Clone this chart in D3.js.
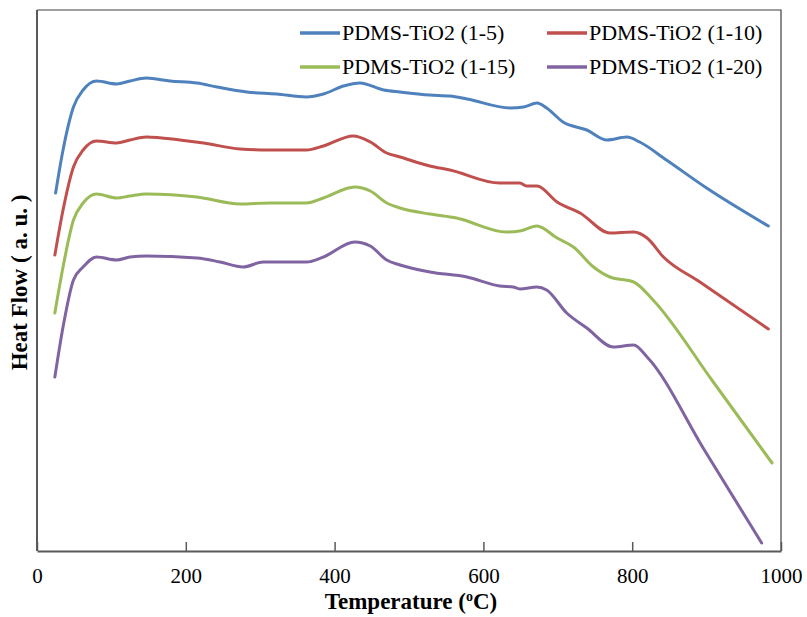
<!DOCTYPE html>
<html>
<head>
<meta charset="utf-8">
<script src="https://cdn.jsdelivr.net/npm/d3@7"></script>
<style>
  body { margin: 0; background: #fff; }
  text { font-family: "Liberation Serif", "Times New Roman", serif; fill: #000; }
</style>
</head>
<body>
<svg id="chart" width="807" height="617"></svg>
<script>
// heat flow curves (arbitrary units)
var names = ["PDMS-TiO2 (1-5)", "PDMS-TiO2 (1-10)", "PDMS-TiO2 (1-15)", "PDMS-TiO2 (1-20)"];
var colors = ["#4f81bd", "#c0504d", "#9bbb59", "#8064a2"];
var xTicks = [0, 200, 400, 600, 800, 1000];

var tempA = [25, 35, 49, 62, 80, 107, 125, 147, 179, 215, 242, 282, 322, 362, 385, 412, 434, 466, 488, 528, 555, 578, 636, 654, 672, 685, 707, 739, 766, 793, 810, 846, 900, 983];
var flowA = [35.8, 40.1, 44.4, 46.1, 47.0, 46.7, 47.0, 47.3, 47.0, 46.8, 46.4, 45.9, 45.7, 45.4, 45.7, 46.5, 46.8, 46.1, 45.9, 45.6, 45.5, 45.2, 44.3, 44.4, 44.8, 44.3, 42.9, 42.1, 41.1, 41.4, 40.9, 39.1, 36.3, 32.5];

var tempB = [24, 35, 49, 62, 80, 107, 125, 147, 192, 224, 273, 313, 362, 385, 425, 448, 470, 488, 528, 555, 622, 649, 658, 672, 699, 730, 770, 802, 820, 842, 891, 983];
var flowB = [29.6, 34.1, 38.4, 40.1, 41.0, 40.8, 41.1, 41.4, 41.1, 40.8, 40.2, 40.1, 40.1, 40.5, 41.5, 40.9, 39.8, 39.4, 38.5, 38.1, 36.8, 36.8, 36.5, 36.5, 34.9, 33.8, 31.8, 31.9, 31.3, 29.4, 26.9, 22.2];

var tempC = [24, 35, 49, 62, 80, 107, 125, 147, 215, 273, 313, 362, 385, 427, 448, 470, 488, 528, 564, 631, 649, 672, 699, 721, 748, 770, 802, 828, 908, 988];
var flowC = [23.8, 28.4, 33.1, 34.8, 35.7, 35.3, 35.5, 35.7, 35.4, 34.7, 34.8, 34.8, 35.3, 36.4, 36.0, 34.8, 34.3, 33.7, 33.3, 31.9, 32.0, 32.5, 31.3, 30.4, 28.4, 27.4, 26.9, 25.1, 17.0, 8.8];

var tempD = [24, 35, 49, 62, 80, 107, 125, 147, 215, 246, 277, 304, 362, 385, 427, 448, 470, 488, 528, 578, 622, 640, 649, 672, 685, 712, 739, 775, 802, 820, 897, 974];
var flowD = [17.4, 22.4, 27.1, 28.4, 29.4, 29.1, 29.4, 29.5, 29.3, 28.9, 28.4, 28.9, 28.9, 29.4, 30.9, 30.5, 29.1, 28.6, 27.9, 27.4, 26.5, 26.4, 26.2, 26.4, 26.1, 23.8, 22.3, 20.4, 20.6, 19.4, 10.1, 0.8];

var temps = [tempA, tempB, tempC, tempD];
var flows = [flowA, flowB, flowC, flowD];

var svg = d3.select("#chart");
var padL = 37, padR = 781, padT = 10, padB = 551;

var x = d3.scaleLinear().domain([0, 1000]).range([padL, padR]);
var y = d3.scaleLinear().domain([0, 54.1]).range([padB, padT]);

// plot frame (top and right)
svg.append("path")
  .attr("d", "M" + padL + "," + padT + "H" + padR + "V" + padB)
  .attr("fill", "none")
  .attr("stroke", "#404040")
  .attr("stroke-width", 1.2);

// x axis, ticks pointing inward
var xAxis = d3.axisBottom(x).tickValues(xTicks).tickFormat(d3.format("d"))
  .tickSize(-9).tickPadding(17).tickSizeOuter(0);
var gx = svg.append("g").attr("transform", "translate(0," + padB + ")").call(xAxis);
gx.select(".domain").attr("stroke", "#595959").attr("stroke-width", 2);
gx.selectAll(".tick line").attr("stroke", "#595959").attr("stroke-width", 1.5);
gx.selectAll(".tick text")
  .style("font-family", "'Liberation Serif', serif")
  .style("font-size", "21px")
  .attr("fill", "#000");

// y axis line, no ticks
svg.append("line")
  .attr("x1", padL).attr("x2", padL)
  .attr("y1", padT).attr("y2", padB)
  .attr("stroke", "#595959").attr("stroke-width", 2);

// curves
var line = d3.line().curve(d3.curveMonotoneX);
flows.forEach(function(f, i) {
  var pts = f.map(function(v, j) { return [x(temps[i][j]), y(v)]; });
  svg.append("path")
    .attr("d", line(pts))
    .attr("fill", "none")
    .attr("stroke", colors[i])
    .attr("stroke-width", 3)
    .attr("stroke-linecap", "round")
    .attr("stroke-linejoin", "round");
});

// legend, two columns
var legend = svg.append("g");
names.forEach(function(n, i) {
  var lx = i % 2 === 0 ? 300 : 547;
  var ly = i < 2 ? 33 : 67;
  legend.append("line")
    .attr("x1", lx).attr("x2", lx + 40)
    .attr("y1", ly).attr("y2", ly)
    .attr("stroke", colors[i]).attr("stroke-width", 3.5);
  legend.append("text")
    .attr("x", lx + 42).attr("y", ly + 7)
    .style("font-size", "22px")
    .text(n);
});

// axis titles
var xt = svg.append("text")
  .attr("x", (padL + padR) / 2 + 2).attr("y", 609)
  .attr("text-anchor", "middle")
  .style("font-size", "23px").style("font-weight", "bold")
  .text("Temperature (");
xt.append("tspan").attr("dy", -8).style("font-size", "14px").text("o");
xt.append("tspan").attr("dy", 8).text("C)");

svg.append("text")
  .attr("transform", "translate(27," + ((padT + padB) / 2 + 2) + ") rotate(-90)")
  .attr("text-anchor", "middle")
  .style("font-size", "23px").style("font-weight", "bold")
  .text("Heat Flow ( a. u. )");
</script>
</body>
</html>
